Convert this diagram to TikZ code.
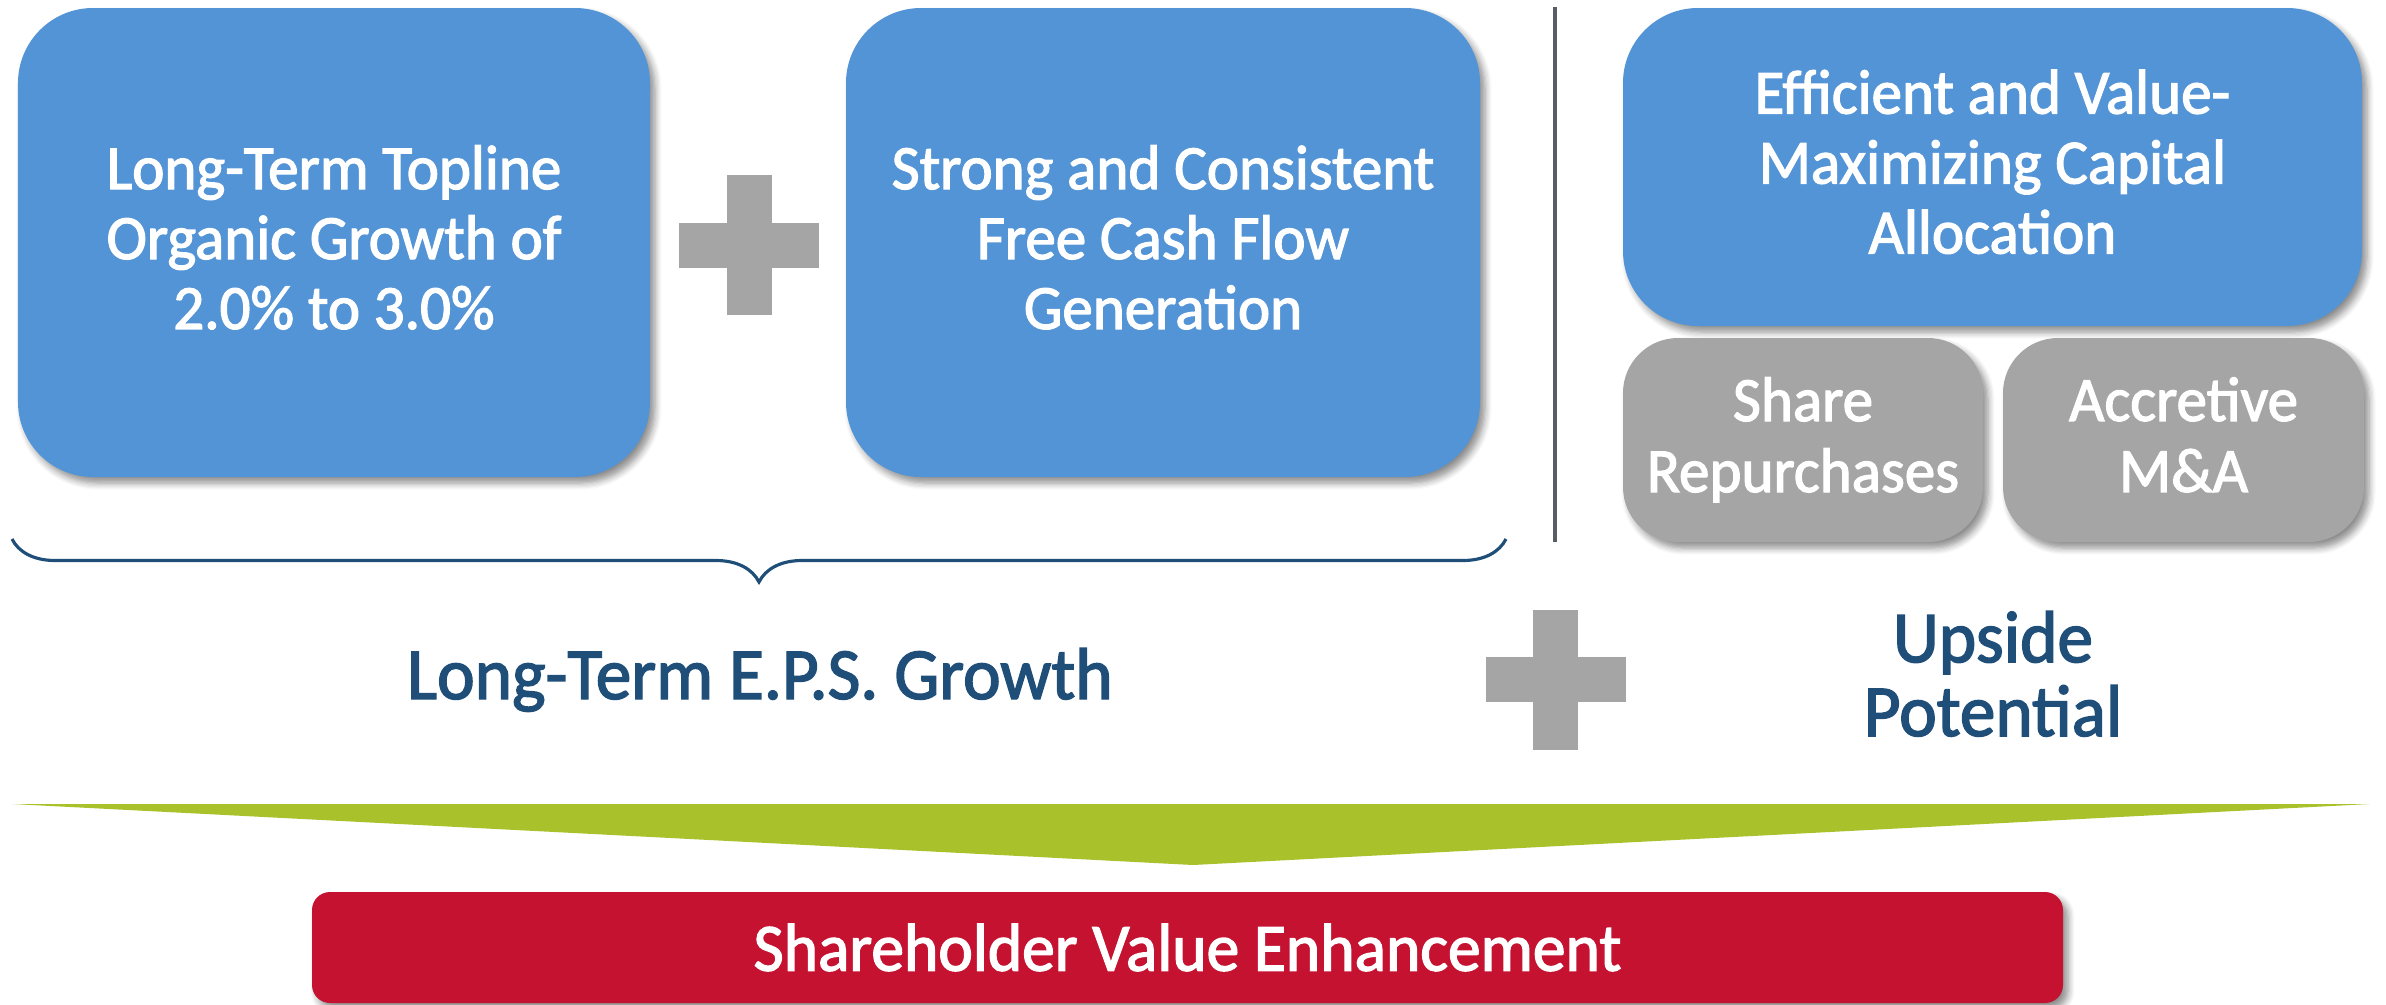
\documentclass[tikz,border=0pt]{standalone}
\usepackage{fontspec}
\setmainfont{Carlito}[FakeBold=2, FakeStretch=0.97]
\usetikzlibrary{positioning, calc, shadows.blur, decorations.pathreplacing}

\definecolor{boxblue}{RGB}{82,148,214}
\definecolor{boxgray}{RGB}{165,165,165}
\definecolor{textblue}{RGB}{31,78,121}
\definecolor{arrowgreen}{RGB}{169,193,43}
\definecolor{valuered}{RGB}{196,18,48}
\definecolor{divgray}{RGB}{88,93,101}

\newcommand\capstrut{\rule[-0.17em]{0pt}{1.05em}}

\tikzset{
  boxshadow/.style={blur shadow={shadow xshift=0.05cm, shadow yshift=-0.06cm, shadow blur steps=6, shadow opacity=45}},
  evenlines/.style={execute at begin node=\capstrut, execute at end node=\capstrut},
  bluebox/.style={fill=boxblue, text=white, rounded corners=0.75cm, boxshadow, align=center,
    font=\fontsize{17.9}{19.9}\selectfont, inner sep=0pt, evenlines},
  graybox/.style={fill=boxgray, text=white, rounded corners=0.55cm, boxshadow, align=center,
    font=\fontsize{17.9}{20.2}\selectfont, inner sep=0pt, evenlines},
  bluetext/.style={text=textblue, align=center, font=\fontsize{20.9}{21}\selectfont, inner sep=0pt},
}

\begin{document}
\begin{tikzpicture}
    \useasboundingbox (0,0) rectangle (23.86,-10.04);

    \def \arm {0.225}  % half thickness of a plus bar
    \def \reach {0.70} % half length of a plus bar

    % top row
    \node[bluebox, minimum width=6.32cm, minimum height=4.69cm] (topline) at (3.34,-2.425)
      {Long-Term Topline\\Organic Growth of\\2.0\% to 3.0\%};
    \node[bluebox, minimum width=6.34cm, minimum height=4.69cm] (cashflow) at (11.63,-2.425)
      {Strong and Consistent\\Free Cash Flow\\Generation};
    \node[bluebox, minimum width=7.39cm, minimum height=3.18cm] (capital) at (19.925,-1.67)
      {Efficient and Value-\\Maximizing Capital\\Allocation};
    \node[graybox, minimum width=3.60cm, minimum height=2.04cm] (repurchase) at (18.03,-4.40)
      {Share\\Repurchases};
    \node[graybox, minimum width=3.61cm, minimum height=2.04cm] (mna) at (21.835,-4.40)
      {Accretive\\M\&A};

    \draw[divgray, line width=1.4pt] (15.55,-0.07) -- (15.55,-5.42);

    % plus signs
    \foreach \cx/\cy in {7.49/-2.45, 15.555/-6.795}
    {
      \fill[boxgray] (\cx-\reach,\cy-\arm) rectangle (\cx+\reach,\cy+\arm);
      \fill[boxgray] (\cx-\arm,\cy-\reach) rectangle (\cx+\arm,\cy+\reach);
    }

    \draw[textblue, line width=0.9pt, decorate, decoration={brace, mirror, amplitude=0.43cm}]
      (0.12,-5.39) -- (15.06,-5.39);

    \node[bluetext, anchor=base] (eps) at (7.60,-6.99) {Long-Term E.P.S. Growth};
    \node[bluetext, anchor=base] (upside) at (19.93,-7.36) {Upside\\Potential};

    % funnel into the result
    \fill[arrowgreen] (0.12,-8.04) -- (23.70,-8.04) -- (11.93,-8.65) -- cycle;

    \node[fill=valuered, text=white, rounded corners=0.18cm, boxshadow, inner sep=0pt,
      minimum width=17.51cm, minimum height=1.11cm, font=\fontsize{19.2}{22}\selectfont]
      (value) at (11.875,-9.475) {Shareholder Value Enhancement};
\end{tikzpicture}
\end{document}
